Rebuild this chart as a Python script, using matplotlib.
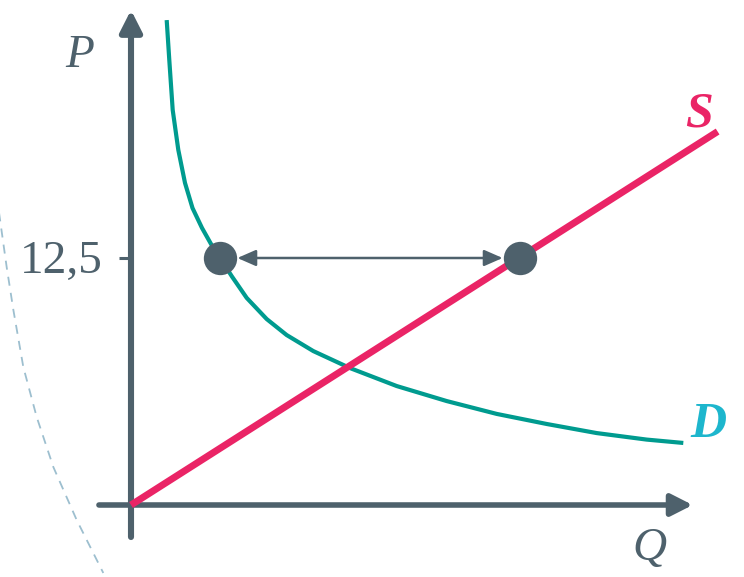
import matplotlib
matplotlib.use("Agg")
import matplotlib.pyplot as plt

# ---- data (Q, P units) ----
demand_q = [2.294, 2.461, 2.680, 3.040, 3.470, 3.952, 4.563, 5.141, 5.720, 6.491, 7.436,
            8.721, 10.006, 11.716, 14.075, 17.076, 20.289, 23.502, 26.716, 29.929, 33.142, 35.495]
demand_p = [24.54, 22.52, 19.99, 17.97, 16.30, 15.03, 14.02, 13.21, 12.50, 11.56, 10.48,
            9.41, 8.60, 7.79, 6.93, 6.02, 5.26, 4.61, 4.10, 3.64, 3.31, 3.14]
supply_q = [0.0, 37.7]
supply_p = [0.0, 18.9]
price_level = 12.5
q_demanded = 5.72
q_supplied = 25.0
tick_labels = ["12,5"]
arc_q = [-8.50, -7.99, -7.56, -6.92, -6.06, -4.99, -3.49, -1.78]
arc_p = [14.90, 12.04, 9.87, 6.98, 4.45, 1.92, -0.76, -3.44]

AXIS = "#4e616c"
S_COL = "#ea2466"
D_COL = "#009b8f"
D_LAB = "#1db6cd"
ARC = "#9dbfcf"

fig = plt.figure(figsize=(7.44, 5.77), dpi=100)
ax = fig.add_axes([0, 0, 1, 1])
ax.set_xlim(-131 / 15.56, (744 - 131) / 15.56)
ax.set_ylim(-(577 - 505) / 19.76, 505 / 19.76)
ax.axis("off")

# dashed arc
ax.plot(arc_q, arc_p, color=ARC, lw=1.3, dashes=(5, 4), zorder=1)

# axes with arrows
ax.annotate("", xy=(0, 25.05), xytext=(0, -1.62),
            arrowprops=dict(arrowstyle="-|>,head_length=0.65,head_width=0.33",
                            lw=4.4, color=AXIS, shrinkA=0, shrinkB=0, mutation_scale=20),
            zorder=2)
ax.annotate("", xy=(36.1, 0.0), xytext=(-2.06, 0.0),
            arrowprops=dict(arrowstyle="-|>,head_length=0.65,head_width=0.33",
                            lw=4.0, color=AXIS, shrinkA=0, shrinkB=0, mutation_scale=20),
            zorder=2)
# tick
ax.plot([-0.75, 0], [price_level, price_level], color=AXIS, lw=2.2, solid_capstyle="butt", zorder=2)
ax.text(-1.8, 11.74, tick_labels[0], ha="right", va="baseline", color=AXIS,
        fontsize=34, family="Liberation Serif")

# curves
ax.plot(demand_q, demand_p, color=D_COL, lw=3.0, solid_capstyle="butt",
        solid_joinstyle="round", zorder=3)
ax.plot(supply_q, supply_p, color=S_COL, lw=5.0, solid_capstyle="butt", zorder=4)

# double arrow and dots
ax.annotate("", xy=(q_supplied, price_level), xytext=(q_demanded, price_level),
            arrowprops=dict(arrowstyle="<|-|>,head_length=0.8,head_width=0.35",
                            lw=1.8, color=AXIS, shrinkA=12.5, shrinkB=12.5, mutation_scale=14),
            zorder=5)
ax.plot([q_demanded, q_supplied], [price_level, price_level], "o", color=AXIS,
        markersize=24, markeredgewidth=0, zorder=6)

# labels
ax.text(-3.28, 22.17, "P", ha="center", va="baseline", color=AXIS, fontsize=34,
        family="Liberation Serif", style="italic")
ax.text(33.35, -2.78, "Q", ha="center", va="baseline", color=AXIS, fontsize=34,
        family="Liberation Serif", style="italic")
ax.text(36.5, 19.13, "S", ha="center", va="baseline", color=S_COL, fontsize=36,
        family="Liberation Serif", style="italic", weight="bold")
ax.text(37.08, 3.44, "D", ha="center", va="baseline", color=D_LAB, fontsize=36,
        family="Liberation Serif", style="italic", weight="bold")

fig.savefig("out.png", dpi=100)
